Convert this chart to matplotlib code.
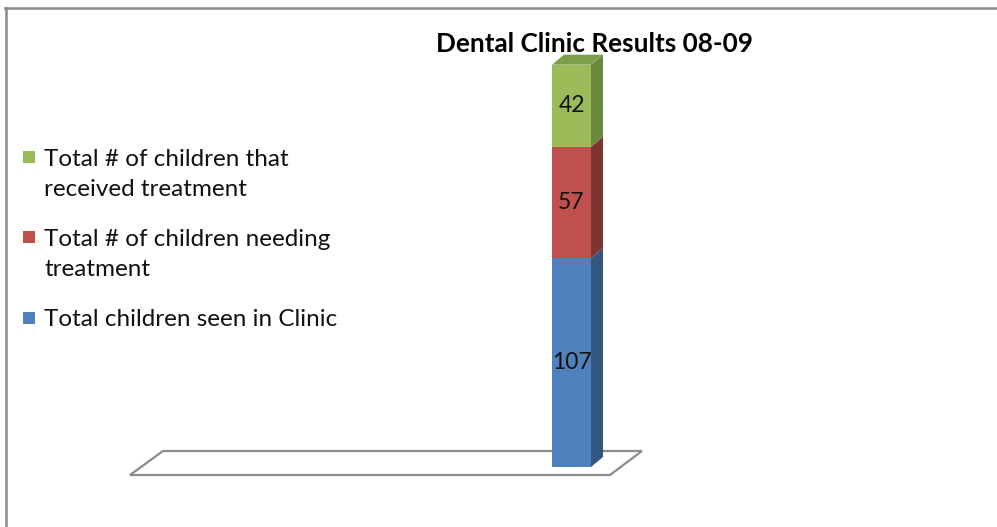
import matplotlib
matplotlib.use("Agg")
import matplotlib.pyplot as plt
from matplotlib.patches import Polygon, Rectangle
from matplotlib.lines import Line2D
import numpy as np

# data
category = ["08-09"]
series = ["Total children seen in Clinic",
          "Total # of children needing\ntreatment",
          "Total # of children that\nreceived treatment"]
values = [107, 57, 42]
title = "Dental Clinic Results 08-09"

front_cols = ["#4F81BD", "#C0504D", "#9BBB59"]
side_cols = ["#34557E", "#7E3432", "#698A3B"]
top_col = "#7F9E4A"

plt.rcParams["font.family"] = ["Lato", "DejaVu Sans"]

W, H = 997, 527
fig = plt.figure(figsize=(W / 100, H / 100), dpi=100)

# axes mapped so bar base sits at pixel row 467, 1.953 px per unit
px_per_unit = 1.953
px_per_x = 97.5
base_px = 467
xc_px = 571.5
ax = fig.add_axes([0, 0, 1, 1])
ax.set_xlim(-xc_px / px_per_x, (W - xc_px) / px_per_x)
ax.set_ylim(-(H - base_px) / px_per_unit, base_px / px_per_unit)
ax.axis("off")

def px(xp, yp):
    # pixel (from top-left) to data coords
    return ((xp - xc_px) / px_per_x, (base_px - yp) / px_per_unit)

# floor
floor = Polygon([px(130, 475), px(163, 451), px(642, 451), px(610, 475)],
                closed=True, facecolor="white", edgecolor="#8C8C8C", lw=1.6, zorder=1)
ax.add_patch(floor)

# bars
width = 0.4
dx = 12 / px_per_x
dy = 10 / px_per_unit
xpos = np.arange(len(category))
bottoms = np.concatenate([[0], np.cumsum(values)[:-1]])
for i, (v, b) in enumerate(zip(values, bottoms)):
    ax.bar(xpos, v, bottom=b, width=width, color=front_cols[i], zorder=3)
    x1 = xpos[0] + width / 2
    side = Polygon([(x1, b), (x1 + dx, b + dy), (x1 + dx, b + v + dy), (x1, b + v)],
                   closed=True, facecolor=side_cols[i], edgecolor="none", zorder=3)
    ax.add_patch(side)
    ax.text(xpos[0], b + v / 2, str(v), ha="center", va="center",
            fontsize=16.5, color="#111111", zorder=4)

top = bottoms[-1] + values[-1]
x0 = xpos[0] - width / 2
x1 = xpos[0] + width / 2
ax.add_patch(Polygon([(x0, top), (x1, top), (x1 + dx, top + dy), (x0 + dx, top + dy)],
                     closed=True, facecolor=top_col, edgecolor="none", zorder=3))

# title
fig.text(594 / W, 1 - 44 / H, title, ha="center", va="center",
         fontsize=18.8, fontweight="bold", color="black")

# legend (green on top)
leg_y = [157, 237, 318]
for j, yy in enumerate(leg_y):
    k = len(series) - 1 - j
    fig.patches.append(Rectangle((23 / W, 1 - (yy + 6) / H), 12 / W, 12 / H,
                                 transform=fig.transFigure, facecolor=front_cols[k],
                                 edgecolor="none"))
    fig.text(44 / W, 1 - (yy - 8.5) / H, series[k], ha="left", va="top",
             fontsize=17.5, color="#111111", linespacing=1.56)

# chart border (top and left)
fig.add_artist(Line2D([6 / W, 6 / W], [0, 1 - 8 / H], color="#8A8A8A", lw=1.8))
fig.add_artist(Line2D([5.4 / W, 1], [1 - 8 / H, 1 - 8 / H], color="#8A8A8A", lw=1.8))

fig.savefig("out.png", dpi=100)
